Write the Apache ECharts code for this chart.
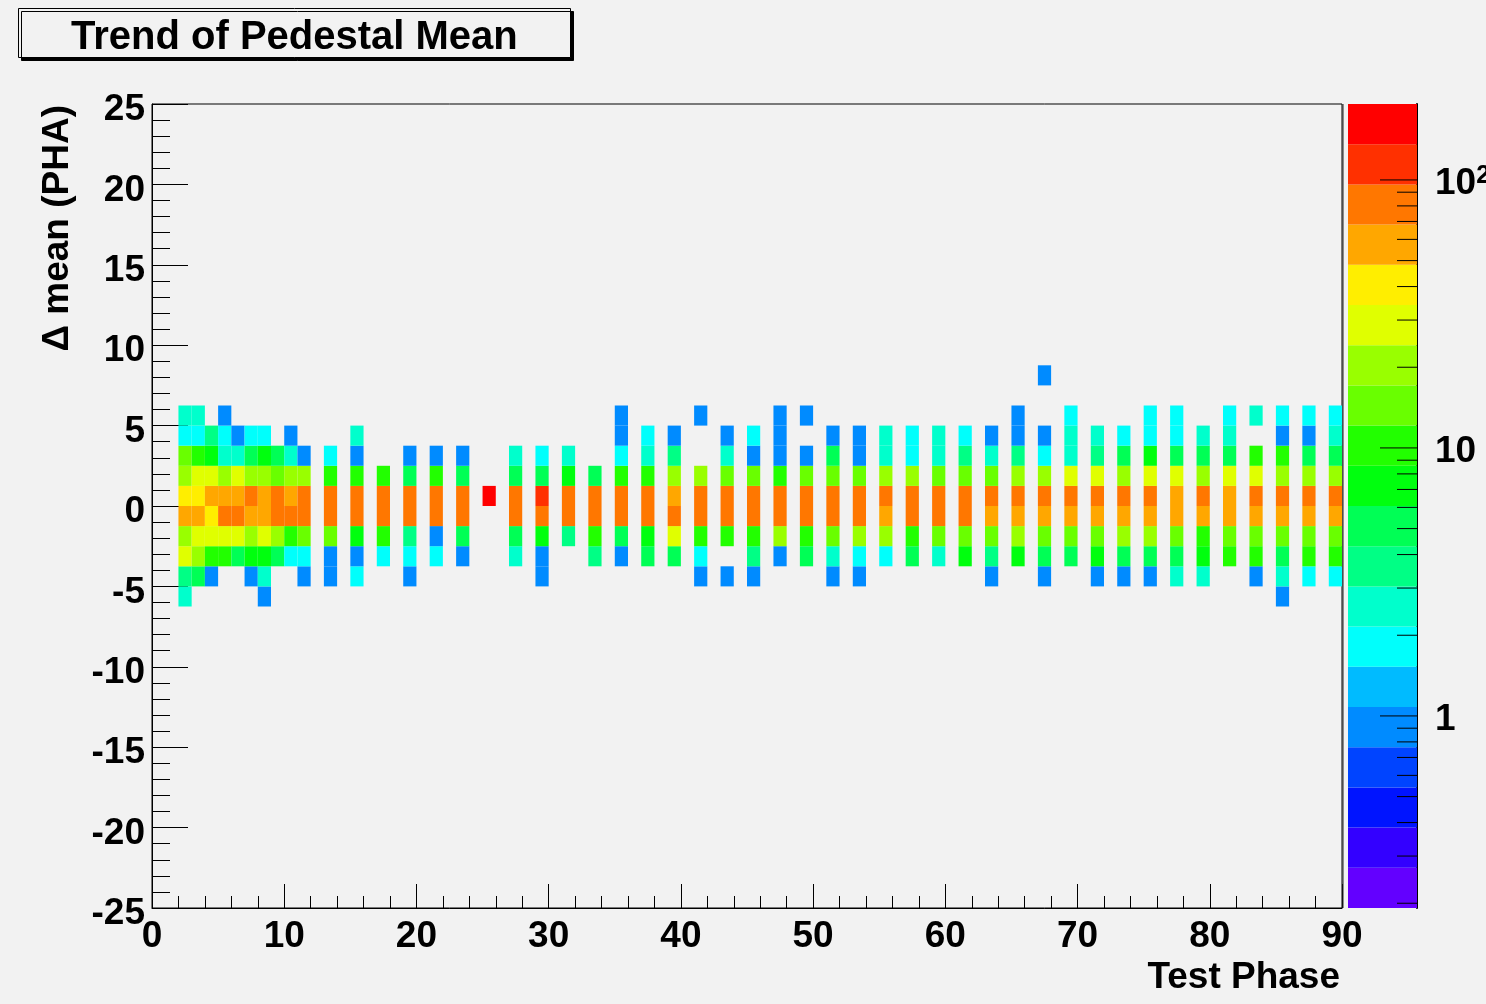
<!DOCTYPE html>
<html>
<head>
<meta charset="utf-8">
<script src="https://cdn.jsdelivr.net/npm/echarts/dist/echarts.min.js"></script>
<style>
html, body { margin: 0; padding: 0; background: #f2f2f2; }
#chart { width: 1486px; height: 1004px; }
</style>
</head>
<body>
<div id="chart"></div>
<script>
// ---------------- data ----------------
const titleText = 'Trend of Pedestal Mean';
const xTitle = 'Test Phase';
const yTitle = 'Δ mean (PHA)';

const xRange = [0, 90];
const yRange = [-25, 25];
const xBinWidth = 1;
const yBinWidth = 1.25;

// lower edges of the filled x bins (Test Phase)
const xBins = [2, 3, 4, 5, 6, 7, 8, 9, 10, 11,
  13, 15, 17, 19, 21, 23, 25, 27, 29, 31, 33, 35, 37, 39, 41, 43, 45, 47, 49,
  51, 53, 55, 57, 59, 61, 63, 65, 67, 69, 71, 73, 75, 77, 79, 81, 83, 85, 87, 89];

// lower edges of the y bins used (Δ mean)
const yBins = [-6.25, -5, -3.75, -2.5, -1.25, 0, 1.25, 2.5, 3.75, 5, 6.25, 7.5];

// entries per cell: one row per x bin, values listed bottom -> top following yBins
const counts = [
  [3, 4, 29, 20, 58, 40, 20, 15, 2, 3, 0, 0],   // 2
  [0, 5, 20, 29, 58, 40, 29, 10, 2, 3, 0, 0],   // 3
  [0, 1, 10, 29, 40, 58, 29, 7, 4, 0, 0, 0],    // 4
  [0, 0, 10, 29, 82, 58, 20, 3, 2, 1, 0, 0],    // 5
  [0, 0, 5, 29, 82, 58, 29, 3, 1, 0, 0, 0],     // 6
  [0, 1, 7, 20, 58, 82, 20, 5, 2, 0, 0, 0],     // 7
  [1, 3, 7, 29, 58, 58, 20, 7, 2, 0, 0, 0],     // 8
  [0, 0, 5, 20, 82, 82, 15, 5, 0, 0, 0, 0],     // 9
  [0, 0, 2, 10, 82, 58, 20, 3, 1, 0, 0, 0],     // 10
  [0, 1, 2, 15, 82, 82, 20, 1, 0, 0, 0, 0],     // 11
  [0, 1, 1, 15, 82, 82, 10, 2, 0, 0, 0, 0],     // 13
  [0, 2, 1, 7, 82, 82, 10, 1, 3, 0, 0, 0],      // 15
  [0, 0, 2, 10, 82, 82, 10, 0, 0, 0, 0, 0],     // 17
  [0, 1, 2, 4, 82, 82, 5, 1, 0, 0, 0, 0],       // 19
  [0, 0, 2, 1, 82, 82, 10, 1, 0, 0, 0, 0],      // 21
  [0, 0, 1, 5, 82, 82, 5, 1, 0, 0, 0, 0],       // 23
  [0, 0, 0, 0, 0, 180, 0, 0, 0, 0, 0, 0],       // 25
  [0, 0, 3, 5, 82, 82, 5, 3, 0, 0, 0, 0],       // 27
  [0, 1, 1, 7, 82, 115, 5, 2, 0, 0, 0, 0],      // 29
  [0, 0, 0, 4, 82, 82, 7, 3, 0, 0, 0, 0],       // 31
  [0, 0, 4, 10, 82, 82, 5, 0, 0, 0, 0, 0],      // 33
  [0, 0, 1, 5, 82, 82, 10, 2, 1, 1, 0, 0],      // 35
  [0, 0, 5, 7, 82, 82, 10, 3, 2, 0, 0, 0],      // 37
  [0, 0, 5, 29, 82, 58, 20, 4, 1, 0, 0, 0],     // 39
  [0, 1, 2, 10, 82, 82, 20, 0, 0, 1, 0, 0],     // 41
  [0, 1, 0, 10, 82, 82, 15, 3, 1, 0, 0, 0],     // 43
  [0, 1, 4, 10, 82, 82, 15, 1, 2, 0, 0, 0],     // 45
  [0, 0, 1, 20, 82, 82, 10, 1, 1, 1, 0, 0],     // 47
  [0, 0, 5, 10, 82, 82, 15, 1, 0, 1, 0, 0],     // 49
  [0, 1, 3, 15, 82, 82, 15, 5, 1, 0, 0, 0],     // 51
  [0, 1, 2, 20, 82, 82, 15, 1, 1, 0, 0, 0],     // 53
  [0, 0, 2, 20, 58, 82, 20, 3, 3, 0, 0, 0],     // 55
  [0, 0, 5, 10, 82, 82, 20, 2, 2, 0, 0, 0],     // 57
  [0, 0, 3, 15, 82, 82, 15, 3, 3, 0, 0, 0],     // 59
  [0, 0, 7, 15, 82, 82, 15, 4, 2, 0, 0, 0],     // 61
  [0, 1, 4, 15, 58, 82, 15, 3, 1, 0, 0, 0],     // 63
  [0, 0, 7, 20, 58, 82, 20, 4, 1, 1, 0, 0],     // 65
  [0, 1, 5, 15, 58, 82, 20, 2, 1, 0, 0, 1],     // 67
  [0, 0, 5, 15, 58, 82, 29, 3, 3, 2, 0, 0],     // 69
  [0, 1, 7, 15, 58, 82, 29, 4, 3, 0, 0, 0],     // 71
  [0, 1, 5, 20, 58, 82, 20, 5, 2, 0, 0, 0],     // 73
  [0, 1, 5, 20, 58, 82, 29, 7, 2, 2, 0, 0],     // 75
  [0, 3, 5, 15, 58, 58, 29, 5, 2, 2, 0, 0],     // 77
  [0, 3, 7, 10, 58, 82, 20, 5, 3, 0, 0, 0],     // 79
  [0, 0, 10, 15, 58, 58, 29, 5, 3, 2, 0, 0],    // 81
  [0, 1, 10, 15, 58, 82, 29, 10, 0, 3, 0, 0],   // 83
  [1, 3, 5, 15, 58, 82, 20, 10, 1, 2, 0, 0],    // 85
  [0, 2, 10, 15, 58, 82, 20, 5, 1, 2, 0, 0],    // 87
  [0, 2, 10, 15, 58, 82, 20, 5, 3, 2, 0, 0]     // 89
];

// colour (z) scale: logarithmic, 20 contour levels
const zMin = 0.192;
const zMax = 192;
const nContours = 20;
const zTicks = [0.2, 0.3, 0.4, 0.5, 0.6, 0.7, 0.8, 0.9, 1, 2, 3, 4, 5, 6, 7, 8, 9,
  10, 20, 30, 40, 50, 60, 70, 80, 90, 100];
const zMajorTicks = [1, 10, 100];

// ---------------- styling ----------------
const palette = ['#6300ff', '#3300ff', '#0014ff', '#0044ff', '#008bff', '#00bbff',
  '#00fffc', '#00ffcc', '#00ff85', '#00ff55', '#00ff0e', '#22ff00', '#69ff00',
  '#99ff00', '#e0ff00', '#ffee00', '#ffa700', '#ff7700', '#ff3000', '#ff0000'];
const FONT = '"Liberation Sans", Arial, Helvetica, sans-serif';
const BG = '#f2f2f2';
const lzMin = Math.log10(zMin), lzMax = Math.log10(zMax);
const lzStep = (lzMax - lzMin) / nContours;

function colorFor(c) {
  let k = Math.floor((Math.log10(c) - lzMin) / lzStep);
  k = Math.max(0, Math.min(nContours - 1, k));
  return palette[k];
}

// cells [xLow, yLow, count]
const cellData = [];
xBins.forEach((x, i) => {
  yBins.forEach((y, j) => {
    const c = counts[i][j];
    if (c > 0) cellData.push([x, y, c]);
  });
});

// colour bar bands [lo, hi, contourIndex]
const bandData = [];
for (let k = 0; k < nContours; k++) {
  bandData.push([Math.pow(10, lzMin + k * lzStep), Math.pow(10, lzMin + (k + 1) * lzStep), k]);
}
const tickData = zTicks.map(v => [v, zMajorTicks.includes(v) ? 1 : 0]);

const chart = echarts.init(document.getElementById('chart'), null, { renderer: 'canvas' });

const axisText = { color: '#000', fontFamily: FONT, fontWeight: 'bold', fontSize: 37 };

const PLOT = { left: 152, top: 104, width: 1190, height: 804 };

const option = {
  backgroundColor: BG,
  animation: false,
  title: {
    text: titleText,
    left: 18,
    top: 8,
    padding: [10, 53, 0, 53],
    backgroundColor: BG,
    borderColor: '#000',
    borderWidth: 1,
    shadowColor: '#000',
    shadowOffsetX: 3,
    shadowOffsetY: 3,
    shadowBlur: 0,
    textStyle: { color: '#000', fontFamily: FONT, fontWeight: 'bold', fontSize: 40, lineHeight: 40 }
  },
  grid: [
    { left: PLOT.left, top: PLOT.top, width: PLOT.width, height: PLOT.height, show: true,
      backgroundColor: BG, borderColor: '#000', borderWidth: 1,
      containLabel: false, outerBoundsMode: 'none' },
    { left: 1348, top: 104, width: 69, height: 804, show: false,
      containLabel: false, outerBoundsMode: 'none' }
  ],
  xAxis: [
    {
      type: 'value', gridIndex: 0, min: xRange[0], max: xRange[1], interval: 10,
      axisLine: { show: true, onZero: false, lineStyle: { color: '#000', width: 1 } },
      axisTick: { show: true, inside: true, length: 24, lineStyle: { color: '#000', width: 1 } },
      minorTick: { show: true, splitNumber: 5, length: 12, lineStyle: { color: '#000', width: 1 } },
      splitLine: { show: false },
      axisLabel: Object.assign({ margin: 10 }, axisText)
    },
    { type: 'value', gridIndex: 1, min: 0, max: 1, show: false }
  ],
  yAxis: [
    {
      type: 'value', gridIndex: 0, min: yRange[0], max: yRange[1], interval: 5,
      axisLine: { show: true, onZero: false, lineStyle: { color: '#000', width: 1 } },
      axisTick: { show: true, inside: true, length: 36, lineStyle: { color: '#000', width: 1 } },
      minorTick: { show: true, splitNumber: 5, length: 18, lineStyle: { color: '#000', width: 1 } },
      splitLine: { show: false },
      axisLabel: Object.assign({
        margin: 7,
        formatter: function (v) { return '{a|' + v + '}'; },
        rich: { a: Object.assign({ padding: [12, 0, 0, 0] }, axisText) }
      }, axisText)
    },
    {
      type: 'log', logBase: 10, gridIndex: 1, min: zMin, max: zMax, position: 'right',
      axisLine: { show: true, onZero: false, lineStyle: { color: '#000', width: 2 } },
      axisTick: { show: false },
      splitLine: { show: false },
      axisLabel: Object.assign({
        margin: 18,
        showMinLabel: false,
        showMaxLabel: false,
        formatter: function (v) {
          if (Math.abs(v - 100) < 1e-6) return '{a|10}{s|2}';
          if (Math.abs(v - 10) < 1e-6) return '{a|10}';
          if (Math.abs(v - 1) < 1e-6) return '{a|1}';
          return '';
        },
        rich: {
          a: Object.assign({ padding: [8, 0, 0, 0] }, axisText),
          s: { color: '#000', fontFamily: FONT, fontWeight: 'bold', fontSize: 25, verticalAlign: 'top', padding: [6, 0, 8, 0] }
        }
      }, axisText)
    }
  ],
  graphic: [
    {
      type: 'line', z: 100, silent: true,
      shape: { x1: PLOT.left + PLOT.width + 1, y1: PLOT.top, x2: PLOT.left + PLOT.width + 1, y2: PLOT.top + PLOT.height },
      style: { stroke: '#222', lineWidth: 1 }
    },
    {
      type: 'text', x: 1340, y: 978,
      style: { text: xTitle, fill: '#000', font: 'bold 37px ' + FONT, textAlign: 'right', textVerticalAlign: 'middle' }
    },
    {
      type: 'text', x: 58, y: 105, rotation: Math.PI / 2,
      style: { text: yTitle, fill: '#000', font: 'bold 37px ' + FONT, textAlign: 'right', textVerticalAlign: 'middle' }
    }
  ],
  series: [
    {
      type: 'custom', name: 'cells', xAxisIndex: 0, yAxisIndex: 0, clip: true, silent: true,
      encode: { x: 0, y: 1 },
      data: cellData,
      renderItem: function (params, api) {
        const x = api.value(0), y = api.value(1), c = api.value(2);
        const a = api.coord([x, y + yBinWidth]);
        const b = api.coord([x + xBinWidth, y]);
        return {
          type: 'rect',
          shape: { x: a[0], y: a[1], width: b[0] - a[0], height: b[1] - a[1] },
          style: { fill: colorFor(c) }
        };
      }
    },
    {
      type: 'custom', name: 'colorbar', xAxisIndex: 1, yAxisIndex: 1, silent: true,
      encode: { x: 2, y: 1 },
      data: bandData,
      renderItem: function (params, api) {
        const lo = api.value(0), hi = api.value(1), k = api.value(2);
        const a = api.coord([0, hi]);
        const b = api.coord([1, lo]);
        return {
          type: 'rect',
          shape: { x: a[0], y: a[1], width: b[0] - a[0], height: b[1] - a[1] },
          style: { fill: palette[k] }
        };
      }
    },
    {
      type: 'custom', name: 'colorbarTicks', xAxisIndex: 1, yAxisIndex: 1, silent: true,
      encode: { x: 1, y: 0 },
      data: tickData,
      z: 5,
      renderItem: function (params, api) {
        const v = api.value(0), major = api.value(1);
        const p = api.coord([1, v]);
        const len = major ? 37 : 20;
        return {
          type: 'line',
          shape: { x1: p[0], y1: p[1], x2: p[0] - len, y2: p[1] },
          style: { stroke: '#000', lineWidth: 1 }
        };
      }
    }
  ]
};

chart.setOption(option);
</script>
</body>
</html>
